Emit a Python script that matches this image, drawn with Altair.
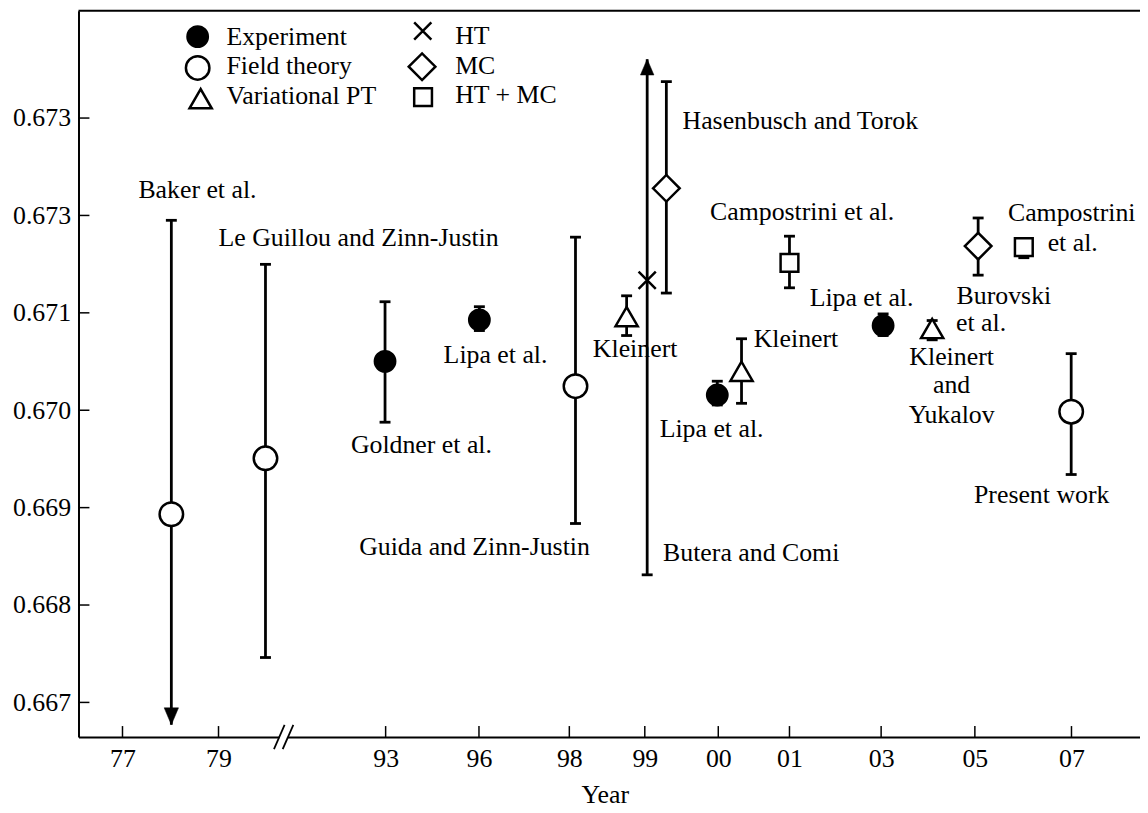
import altair as alt
import pandas as pd

FONT = "Liberation Serif"
FS = 26
PLOT_W = 1069
PLOT_H = 731.3

# ---- axes (positions along the broken year axis) ----
year_labels = ["77", "79", "93", "96", "98", "99", "00", "01", "03", "05", "07"]
year_pos = [44.3, 141, 309.3, 403.3, 494.3, 570.3, 644.3, 716, 808.3, 902.7, 1000]
break_pos = 206.6
x_domain = [0, PLOT_W]

y_ticks = [0.667, 0.668, 0.669, 0.670, 0.671, 0.672, 0.673]
y_tick_labels = ["0.667", "0.668", "0.669", "0.670", "0.671", "0.673", "0.673"]
y_domain = [0.666645, 0.674101]

# ---- data ----
authors = ["Baker et al.", "Le Guillou and Zinn-Justin", "Goldner et al.", "Lipa et al. 96",
           "Guida and Zinn-Justin", "Kleinert 98", "Butera and Comi", "Hasenbusch and Torok",
           "Lipa et al. 00", "Kleinert 00", "Campostrini et al. 01", "Lipa et al. 03",
           "Kleinert and Yukalov", "Burovski et al.", "Campostrini et al. 06", "Present work"]
method = ["Field theory", "Field theory", "Experiment", "Experiment",
          "Field theory", "Variational PT", "HT", "MC",
          "Experiment", "Variational PT", "HT + MC", "Experiment",
          "Variational PT", "MC", "HT + MC", "Field theory"]
x_pos = [93.5, 188.3, 308.7, 403.7, 500.5, 552, 572.7, 592,
         643.3, 667.7, 716, 810.3, 859.7, 906, 952, 999.7]
value = [0.668932, 0.669506, 0.670502, 0.670927, 0.670247, 0.670961, 0.671335, 0.672279,
         0.670156, 0.670400, 0.671512, 0.670869, 0.670839, 0.671685, 0.671675, 0.669985]
lower = [0.666771, 0.667461, 0.669877, 0.670818, 0.668837, 0.670767, 0.668310, 0.671203,
         0.670054, 0.670071, 0.671257, 0.670767, 0.670723, 0.671387, 0.671566, 0.669340]
upper = [0.671950, 0.671498, 0.671114, 0.671063, 0.671777, 0.671175, 0.673605, 0.673374,
         0.670298, 0.670734, 0.671787, 0.670989, 0.670921, 0.671974, 0.671756, 0.670581]
lower_end = ["arrow"] + ["cap"] * 15
upper_end = ["cap"] * 6 + ["arrow"] + ["cap"] * 9

# ---- annotations: text, anchor position (axis units), alignment ----
ann_text = ["Baker et al.", "Le Guillou and Zinn-Justin", "Goldner et al.", "Lipa et al.",
            "Guida and Zinn-Justin", "Kleinert", "Butera and Comi", "Hasenbusch and Torok",
            "Campostrini et al.", "Lipa et al.", "Kleinert", "Lipa et al.",
            "Burovski", "et al.", "Kleinert", "and", "Yukalov",
            "Campostrini", "et al.", "Present work"]
ann_x = [60.3, 141, 274.3, 367.7, 515, 518, 588.7, 608.3,
         636, 585.3, 680, 736.3, 884.3, 883.7, 879.3, 879.3, 879.3, 936, 976, 970]
ann_y = [0.672177, 0.671685, 0.669561, 0.670485, 0.668514, 0.670546, 0.668456, 0.672891,
         0.671957, 0.669730, 0.670648, 0.671073, 0.671094, 0.670811, 0.670461, 0.670173,
         0.669867, 0.671940, 0.671634, 0.669051]
ann_align = ["left", "left", "left", "left", "right", "left", "left", "left",
             "left", "left", "left", "left", "left", "left", "center", "center",
             "center", "left", "left", "center"]

# ---- legend ----
leg_method = ["Experiment", "Field theory", "Variational PT", "HT", "MC", "HT + MC"]
leg_mx = [120, 120, 123, 346.7, 346, 347]
leg_my = [0.673836, 0.673515, 0.673199, 0.673894, 0.673527, 0.673214]
leg_tx = [149, 149, 149, 379.3, 379.3, 379.3]
leg_ty = [0.673748, 0.673452, 0.673146, 0.673758, 0.673452, 0.673153]

methods = ["Experiment", "Field theory", "Variational PT", "HT", "MC", "HT + MC"]
shape_range = ["circle", "circle", "triangle-up", "M-1,-1L1,1M-1,1L1,-1", "diamond", "square"]
size_range = [420, 560, 500, 300, 720, 320]
fill_range = ["black", "white", "white", "white", "white", "white"]

# ---- tables ----
pts = pd.DataFrame({"author": authors, "method": method, "pos": x_pos, "value": value,
                    "lower": lower, "upper": upper})
caps = pd.DataFrame(
    [{"pos": p, "value": lo} for p, lo, e in zip(x_pos, lower, lower_end) if e == "cap"] +
    [{"pos": p, "value": hi} for p, hi, e in zip(x_pos, upper, upper_end) if e == "cap"])
arrows_down = pd.DataFrame([{"pos": p, "value": lo} for p, lo, e in zip(x_pos, lower, lower_end) if e == "arrow"])
arrows_up = pd.DataFrame([{"pos": p, "value": hi} for p, hi, e in zip(x_pos, upper, upper_end) if e == "arrow"])
ann = pd.DataFrame({"text": ann_text, "pos": ann_x, "value": ann_y, "align": ann_align})
leg_m = pd.DataFrame({"method": leg_method, "pos": leg_mx, "value": leg_my})
leg_t = pd.DataFrame({"method": leg_method, "pos": leg_tx, "value": leg_ty})
xt = pd.DataFrame({"pos": year_pos})
yt = pd.DataFrame({"value": y_ticks})
brk = pd.DataFrame({"pos": [break_pos - 4.4, break_pos + 4.4]})
gap = pd.DataFrame({"pos": [break_pos - 4.4], "hi": [break_pos + 4.4]})

xs = alt.Scale(domain=x_domain, nice=False, zero=False)
ys = alt.Scale(domain=y_domain, nice=False, zero=False)


def js_list(vals, quote=False):
    if quote:
        return "[" + ",".join("'" + str(v) + "'" for v in vals) + "]"
    return "[" + ",".join(repr(v) for v in vals) + "]"


x_axis = alt.Axis(values=year_pos,
                  labelExpr=js_list(year_labels, True) + "[indexof(" + js_list(year_pos) + ", datum.value)]",
                  ticks=False, grid=False, domain=True, domainColor="black", domainWidth=2,
                  labelFont=FONT, labelFontSize=FS, labelColor="black", labelPadding=8.5,
                  labelFlush=False, labelOverlap=False,
                  title="Year", titleFont=FONT, titleFontSize=FS, titleFontWeight="normal",
                  titleColor="black", titleX=530, titleY=66, titleBaseline="alphabetic")
y_axis = alt.Axis(values=y_ticks,
                  labelExpr=js_list(y_tick_labels, True) + "[indexof(" + js_list(y_ticks) + ", datum.value)]",
                  ticks=False, grid=False, domain=True, domainColor="black", domainWidth=2,
                  labelFont=FONT, labelFontSize=FS, labelColor="black", labelPadding=8,
                  labelFlush=False, labelOverlap=False, title=None)

X = alt.X("pos:Q", scale=xs, axis=x_axis, title="Year")
Y = alt.Y("value:Q", scale=ys, axis=y_axis, title=None)

# error bars
bars = alt.Chart(pts).mark_rule(color="black", strokeWidth=2.8).encode(
    x=X, y=alt.Y("lower:Q", scale=ys, axis=y_axis, title=None), y2="upper:Q")

cap_layer = alt.Chart(caps).mark_point(shape="M-1,0L1,0", size=121, stroke="black",
                                       strokeWidth=2.8, filled=False, opacity=1).encode(x=X, y=Y)

arr_d = alt.Chart(arrows_down).mark_point(shape="M-0.85,-2L0.85,-2L0,0Z", size=289, fill="black",
                                          filled=True, stroke="black", strokeWidth=0.5,
                                          opacity=1).encode(x=X, y=Y)
arr_u = alt.Chart(arrows_up).mark_point(shape="M-0.85,2L0.85,2L0,0Z", size=256, fill="black",
                                        filled=True, stroke="black", strokeWidth=0.5,
                                        opacity=1).encode(x=X, y=Y)

shape_enc = alt.Shape("method:N", scale=alt.Scale(type="ordinal", domain=methods, range=shape_range), legend=None)
size_enc = alt.Size("method:N", scale=alt.Scale(type="ordinal", domain=methods, range=size_range), legend=None)
fill_enc = alt.Fill("method:N", scale=alt.Scale(type="ordinal", domain=methods, range=fill_range), legend=None)

markers = alt.Chart(pts).mark_point(filled=True, stroke="black", strokeWidth=2.5, opacity=1).encode(
    x=X, y=Y, shape=shape_enc, size=size_enc, fill=fill_enc)


def text_layer(align):
    return alt.Chart(ann).transform_filter(alt.datum.align == align).mark_text(
        font=FONT, fontSize=FS, color="black", align=align, baseline="alphabetic").encode(
        x=X, y=Y, text="text:N")


leg_markers = alt.Chart(leg_m).mark_point(filled=True, stroke="black", strokeWidth=2.5, opacity=1).encode(
    x=X, y=Y, shape=shape_enc, size=size_enc, fill=fill_enc)
leg_text = alt.Chart(leg_t).mark_text(font=FONT, fontSize=FS, color="black", align="left",
                                      baseline="alphabetic").encode(x=X, y=Y, text="method:N")

# inward ticks
xticks = alt.Chart(xt).mark_rule(color="black", strokeWidth=1.5).encode(
    x=X, y=alt.value(PLOT_H), y2=alt.value(PLOT_H - 11))
yticks = alt.Chart(yt).mark_rule(color="black", strokeWidth=1.5).encode(
    y=Y, x=alt.value(0), x2=alt.value(11))

# top frame line
top = alt.Chart(pd.DataFrame({"a": [0]})).mark_rule(color="black", strokeWidth=2).encode(
    x=alt.value(0), x2=alt.value(PLOT_W), y=alt.value(0))

# axis break
gap_rect = alt.Chart(gap).mark_rect(color="white").encode(
    x=X, x2="hi:Q", y=alt.value(PLOT_H - 3), y2=alt.value(PLOT_H + 3))
slashes = alt.Chart(brk).mark_point(shape="M-0.44,1L0.44,-1", size=590, stroke="black",
                                    strokeWidth=1.8, filled=False, opacity=1).encode(
    x=X, y=alt.value(PLOT_H))

chart = alt.layer(
    bars, top, xticks, yticks, gap_rect, slashes, cap_layer, arr_d, arr_u, markers,
    text_layer("left"), text_layer("right"), text_layer("center"),
    leg_markers, leg_text
).properties(
    width=PLOT_W, height=PLOT_H,
    autosize=alt.AutoSizeParams(type="none"),
    padding={"left": 71, "top": 0, "right": 0, "bottom": 73},
    background="white"
).configure_view(stroke=None)

chart.save("out.html", embed_options={"renderer": "svg", "actions": False})
